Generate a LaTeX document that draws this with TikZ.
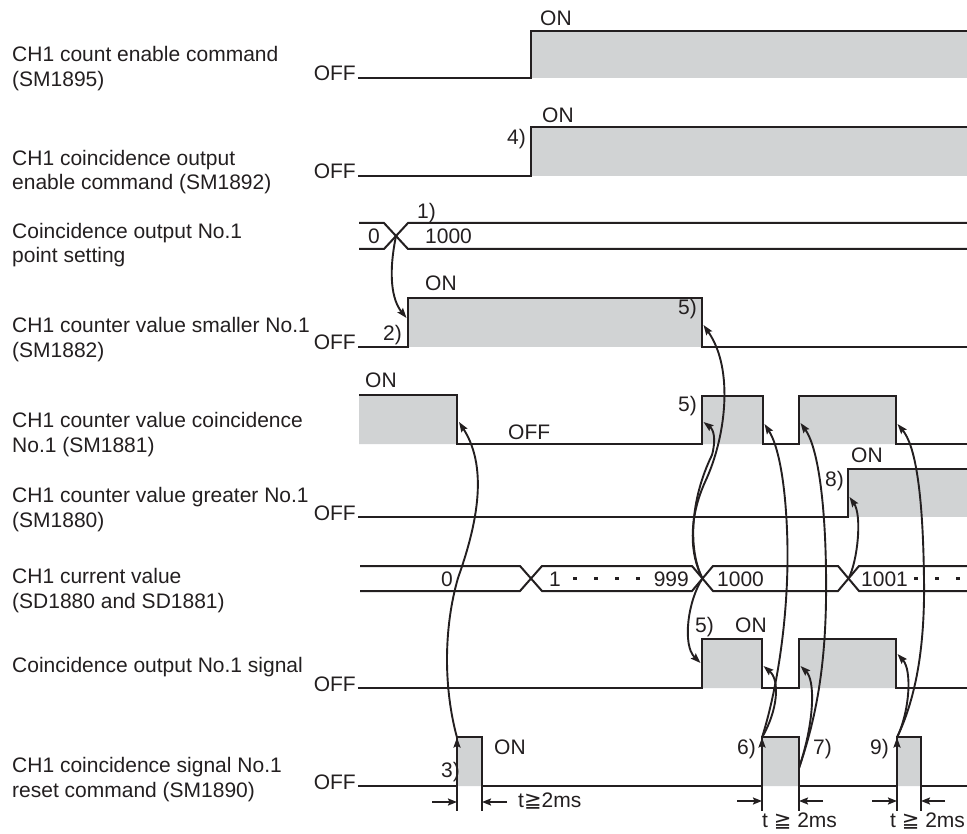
\documentclass[tikz,border=0pt]{standalone}
\usepackage{fontspec}
\setmainfont{Liberation Sans}
\newfontfamily\dejavu{DejaVu Sans}
\usetikzlibrary{arrows.meta}
\definecolor{ink}{HTML}{231F20}
\definecolor{hi}{HTML}{D1D3D4}
\begin{document}
\begin{tikzpicture}[x=1pt,y=-1pt,
  wave/.style={draw=ink, line width=2.2pt, line join=miter},
  bus/.style={draw=ink, line width=2pt},
  conn/.style={draw=ink, line width=1.9pt, -{Stealth[length=10pt,width=7pt,inset=1.5pt]}},
  dim/.style={draw=ink, line width=1.8pt, -{Stealth[length=9pt,width=7pt,inset=1.5pt]}},
  tickln/.style={draw=ink, line width=1.8pt},
  txt/.style={inner sep=0pt, anchor=base west, text=ink, font=\fontsize{21}{25}\selectfont},
  txtr/.style={txt, anchor=base east},
]
\useasboundingbox (0,0) rectangle (967,834);

% ---- left labels
\node[txt] (l1a) at (12,62) {CH1 count enable command};
\node[txt] (l1b) at (12,87) {(SM1895)};
\node[txt] (l2a) at (12,166) {CH1 coincidence output};
\node[txt] (l2b) at (12,190) {enable command (SM1892)};
\node[txt] (l3a) at (12,239) {Coincidence output No.1};
\node[txt] (l3b) at (12,263) {point setting};
\node[txt] (l4a) at (12,333) {CH1 counter value smaller No.1};
\node[txt] (l4b) at (12,358) {(SM1882)};
\node[txt] (l5a) at (12,427) {CH1 counter value coincidence};
\node[txt] (l5b) at (12,452) {No.1 (SM1881)};
\node[txt] (l6a) at (12,502) {CH1 counter value greater No.1};
\node[txt] (l6b) at (12,527) {(SM1880)};
\node[txt] (l7a) at (12,583) {CH1 current value};
\node[txt] (l7b) at (12,608) {(SD1880 and SD1881)};
\node[txt] (l8a) at (12,672) {Coincidence output No.1 signal};
\node[txt] (l9a) at (12,772) {CH1 coincidence signal No.1};
\node[txt] (l9b) at (12,797) {reset command (SM1890)};

% ---- OFF labels
\node[txtr] (off1) at (356,81) {OFF};
\node[txtr] (off2) at (356,179) {OFF};
\node[txtr] (off4) at (356,350) {OFF};
\node[txtr] (off6) at (356,520) {OFF};
\node[txtr] (off8) at (356,691) {OFF};
\node[txtr] (off9) at (356,789) {OFF};

% ---- row 1
\fill[hi] (531,31) rectangle (967,78);
\draw[wave] (358,78) -- (531,78) -- (531,31) -- (967,31);
% ---- row 2
\fill[hi] (531,127) rectangle (967,176);
\draw[wave] (358,176) -- (531,176) -- (531,127) -- (967,127);
% ---- row 3 bus
\draw[bus] (359,223) -- (384,223) -- (408,249) -- (967,249);
\draw[bus] (359,249) -- (384,249) -- (408,223) -- (967,223);
% ---- row 4
\fill[hi] (408,298) rectangle (702,347);
\draw[wave] (358,347) -- (408,347) -- (408,298) -- (702,298) -- (702,347) -- (967,347);
% ---- row 5
\fill[hi] (359,395) rectangle (457,444) (702,396) rectangle (763,444) (799,396) rectangle (896,444);
\draw[wave] (359,395) -- (457,395) -- (457,444) -- (702,444) -- (702,396) -- (763,396) -- (763,444) -- (799,444) -- (799,396) -- (896,396) -- (896,444) -- (967,444);
% ---- row 6
\fill[hi] (848,469) rectangle (967,517);
\draw[wave] (358,517) -- (848,517) -- (848,469) -- (967,469);
% ---- row 7 bus
\draw[bus] (360,566) -- (520,566) -- (542,591) -- (692,591) -- (713,566) -- (838,566) -- (859,591) -- (967,591);
\draw[bus] (360,591) -- (520,591) -- (542,566) -- (692,566) -- (713,591) -- (838,591) -- (859,566) -- (967,566);
\foreach \x in {575,596,617,638,916,937,958}
  \fill[ink] (\x-1.8,576.7) rectangle (\x+1.8,580.3);
% ---- row 8
\fill[hi] (702,639) rectangle (762,688) (799,639) rectangle (896,688);
\draw[wave] (358,688) -- (702,688) -- (702,639) -- (762,639) -- (762,688) -- (799,688) -- (799,639) -- (896,639) -- (896,688) -- (967,688);
% ---- row 9
\fill[hi] (457,737) rectangle (482,786) (762,737) rectangle (799,786) (897,737) rectangle (921,786);
\draw[wave] (358,786) -- (457,786) -- (457,737) -- (482,737) -- (482,786) -- (762,786) -- (762,737) -- (799,737) -- (799,786) -- (897,786) -- (897,737) -- (921,737) -- (921,786) -- (967,786);

% ---- texts on waveforms
\node[txt] (on1) at (540,26) {ON};
\node[txt] (on2) at (542,123) {ON};
\node[txt] (n4) at (507,145) {4)};
\node[txt] (n1) at (417,219) {1)};
\node[txt] (b0) at (368,243.5) {0};
\node[txt] (b1000) at (425,243.5) {1000};
\node[txt] (on4) at (425,291) {ON};
\node[txt] (n2) at (383,341) {2)};
\node[txt] (n5a) at (678,315) {5)};
\node[txt] (on5) at (365,388) {ON};
\node[txt] (off5) at (508,439) {OFF};
\node[txt] (n5b) at (678,411) {5)};
\node[txt] (on6) at (851,462) {ON};
\node[txt] (n8) at (825,486) {8)};
\node[txtr] (c0) at (453,586.5) {0};
\node[txt] (c1) at (549,586.5) {1};
\node[txtr] (c999) at (689,586.5) {999};
\node[txt] (c1000) at (717,586.5) {1000};
\node[txt] (c1001) at (861,586.5) {1001};
\node[txt] (n5c) at (695,632) {5)};
\node[txt] (on8) at (735,632) {ON};
\node[txt] (on9) at (494,754) {ON};
\node[txt] (n3) at (441,777) {3)};
\node[txt] (n6) at (737,754) {6)};
\node[txt] (n7) at (813,754) {7)};
\node[txt] (n9) at (870,754) {9)};
\node[txt] (t1) at (518,807) {t{\dejavu ≧}2ms};
\node[txt] (t2) at (762,827) {t {\dejavu ≧} 2ms};
\node[txt] (t3) at (890,827) {t {\dejavu ≧} 2ms};

% ---- time dimension marks
\foreach \x in {457,482,762,799,897,921}
  \draw[tickln] (\x,787) -- (\x,811);
\draw[dim] (432,802) -- (457,802);
\draw[dim] (507,802) -- (482,802);
\draw[dim] (737,801) -- (762,801);
\draw[dim] (823,801) -- (799,801);
\draw[dim] (872,801) -- (897,801);
\draw[dim] (945,801) -- (921,801);

% ---- connector end points
\coordinate (X3) at (396,236);
\coordinate (R4) at (406.5,318);
\coordinate (F5a) at (459,422);
\coordinate (P1) at (457,737.5);
\coordinate (X7b) at (702.5,578.5);
\coordinate (F4) at (703.5,325);
\coordinate (R5b) at (703.5,422);
\coordinate (R8a) at (700.5,663);
\coordinate (P2r) at (762,737.5);
\coordinate (F5b) at (764.5,424);
\coordinate (F8a) at (763.5,666);
\coordinate (P2f) at (799,768);
\coordinate (R5c) at (800.5,423);
\coordinate (R8b) at (800.5,666);
\coordinate (X7c) at (848.5,578.5);
\coordinate (R6) at (849.5,497);
\coordinate (P3r) at (897,737.5);
\coordinate (F5c) at (897.5,424);
\coordinate (F8b) at (897.5,654);

% ---- rising edge arrows of reset command
\draw[conn] (457,772) -- (P1);
\draw[conn] (762,772) -- (P2r);
\draw[conn] (897,772) -- (P3r);

% ---- cause/effect connectors
\draw[conn] (X3) .. controls (388,275) and (392,300) .. (R4);
\draw[conn] (P1) .. controls (444,690) and (443,630) .. (458,578) .. controls (475,530) and (490,470) .. (F5a);
\draw[conn] (X7b) .. controls (690,555) and (688,520) .. (705,482) .. controls (725,440) and (735,370) .. (F4);
\draw[conn] (X7b) .. controls (688,550) and (690,500) .. (712,455) .. controls (716,440) and (714,430) .. (R5b);
\draw[conn] (X7b) .. controls (688,600) and (682,645) .. (R8a);
\draw[conn] (P2r) .. controls (780,680) and (790,600) .. (787,530) .. controls (785,480) and (778,445) .. (F5b);
\draw[conn] (P2r) .. controls (778,710) and (780,680) .. (F8a);
\draw[conn] (P2f) .. controls (812,730) and (825,680) .. (826,600) .. controls (827,520) and (820,450) .. (R5c);
\draw[conn] (P2f) .. controls (815,720) and (815,680) .. (R8b);
\draw[conn] (X7c) .. controls (858,560) and (862,515) .. (R6);
\draw[conn] (P3r) .. controls (915,700) and (925,650) .. (924,580) .. controls (923,490) and (915,445) .. (F5c);
\draw[conn] (P3r) .. controls (910,710) and (912,670) .. (F8b);
\end{tikzpicture}
\end{document}
